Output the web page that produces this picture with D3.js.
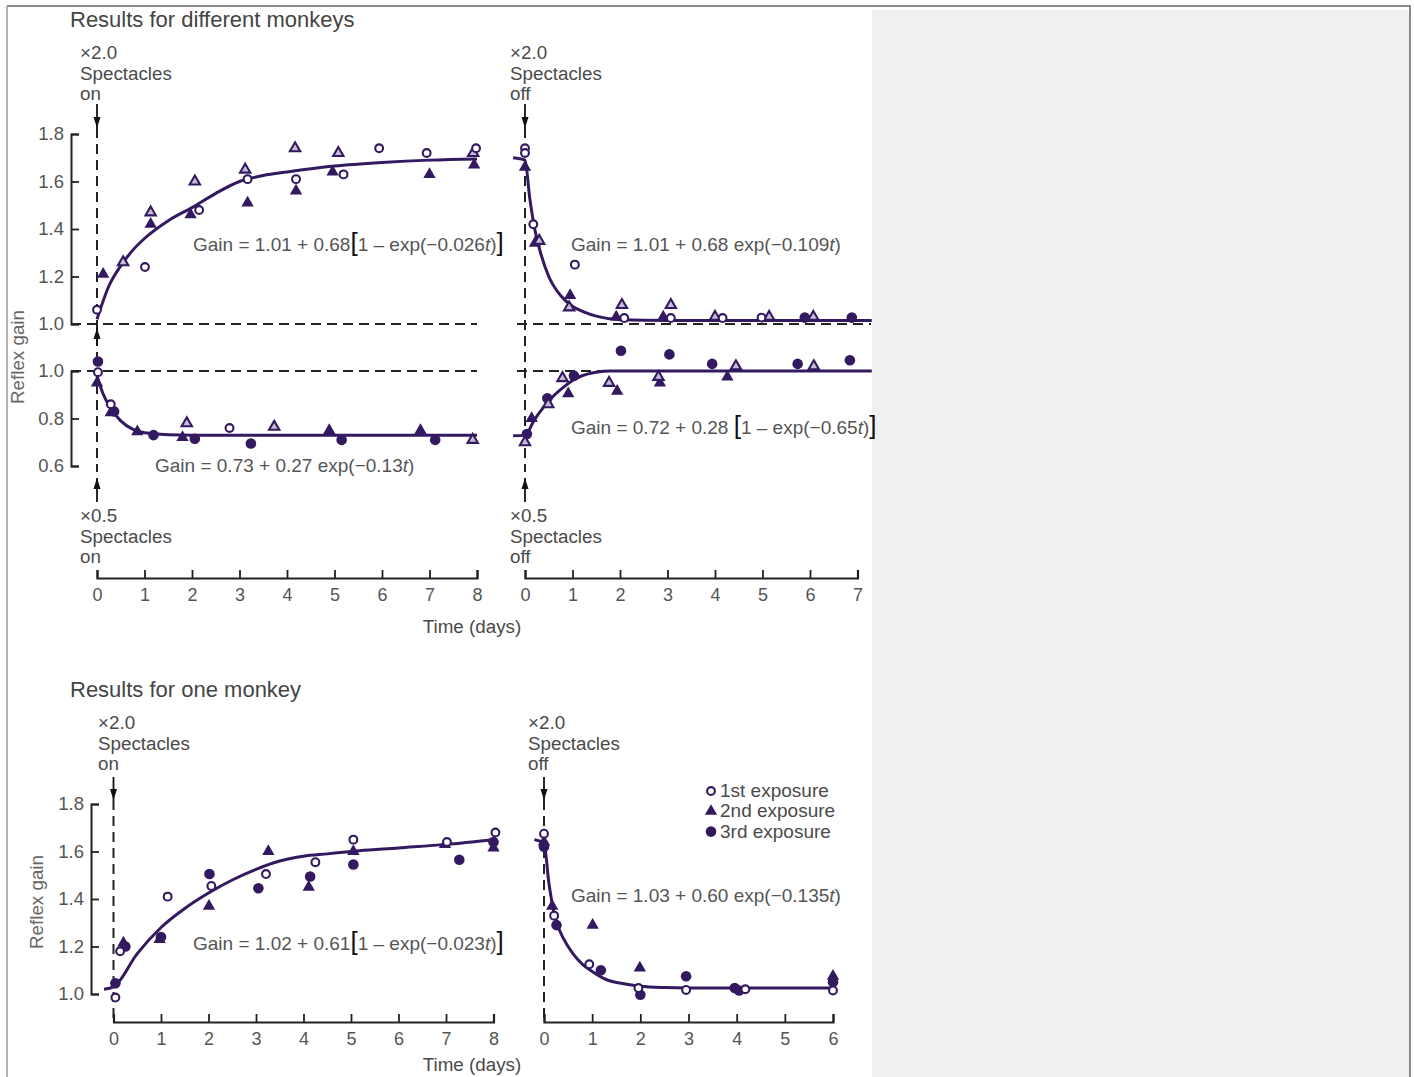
<!DOCTYPE html>
<html><head><meta charset="utf-8">
<script src="https://cdn.jsdelivr.net/npm/d3@7"></script>
<style>
body{margin:0;background:#fff;}
text{font-family:"Liberation Sans",Arial,sans-serif;}
.lbl{font-size:18.8px;fill:#4a4a4a;}
.eq{font-size:19px;fill:#555;}
.br{font-size:26px;fill:#111;}
</style></head>
<body><svg id="c" width="1414" height="1077"></svg>
<script>
// ---------- DATA ----------
// Top-left upper: x2.0 spectacles on (different monkeys)
const tlUpOpenCircle = [[0,1.06],[1.01,1.24],[2.15,1.48],[3.17,1.61],[4.19,1.61],[5.19,1.63],[5.94,1.74],[6.94,1.72],[7.98,1.74]];
const tlUpOpenTri    = [[0.55,1.26],[1.13,1.47],[2.06,1.60],[3.12,1.65],[4.17,1.74],[5.08,1.72],[7.92,1.72]];
const tlUpFilledTri  = [[0.13,1.21],[1.13,1.42],[1.97,1.46],[3.17,1.51],[4.19,1.56],[4.96,1.64],[7.0,1.63],[7.94,1.67]];
const tlUpFit = [[0,1.02],[0.25,1.16],[0.5,1.245],[0.75,1.31],[1,1.36],[1.5,1.435],[2,1.49],[2.5,1.55],[3,1.60],[3.5,1.625],[4,1.64],[5,1.665],[6,1.68],[7,1.69],[8,1.695]];
// Top-left lower: x0.5 spectacles on
const tlLoOpenCircle   = [[0.02,0.995],[0.29,0.86],[2.79,0.76]];
const tlLoOpenTri      = [[1.89,0.78],[3.73,0.765],[7.91,0.71]];
const tlLoFilledTri    = [[0,0.95],[0.29,0.825],[0.85,0.745],[1.8,0.72],[4.89,0.75],[6.81,0.75]];
const tlLoFilledCircle = [[0.02,1.04],[0.36,0.83],[1.19,0.73],[2.06,0.715],[3.24,0.695],[5.15,0.71],[7.12,0.71]];
const tlLoFit = [[0,0.98],[0.125,0.905],[0.25,0.855],[0.5,0.79],[0.75,0.755],[1,0.74],[1.5,0.732],[2,0.73],[4,0.73],[6,0.73],[8,0.73]];
// Top-right upper: x2.0 spectacles off
const trUpOpenCircle   = [[0,1.74],[0,1.72],[0.175,1.42],[1.05,1.25],[2.09,1.025],[3.07,1.025],[4.16,1.025],[4.98,1.027]];
const trUpOpenTri      = [[0.3,1.35],[0.93,1.07],[2.04,1.08],[3.07,1.08],[4.0,1.03],[5.14,1.03],[6.07,1.03]];
const trUpFilledTri    = [[0,1.66],[0.21,1.34],[0.95,1.12],[1.92,1.03],[2.91,1.03]];
const trUpFilledCircle = [[5.89,1.027],[6.88,1.027]];
const trUpFit = [[-0.25,1.70],[0,1.69],[0.1,1.53],[0.2,1.405],[0.3,1.32],[0.5,1.2],[0.75,1.12],[1,1.075],[1.25,1.05],[1.5,1.033],[2,1.018],[3,1.015],[5,1.015],[7.3,1.015]];
// Top-right lower: x0.5 spectacles off
const trLoOpenTri      = [[0,0.70],[0.49,0.86],[0.79,0.97],[1.77,0.95],[2.81,0.975],[4.44,1.02],[6.08,1.02]];
const trLoFilledTri    = [[0.14,0.80],[0.91,0.905],[1.94,0.915],[2.84,0.95],[4.26,0.975]];
const trLoFilledCircle = [[0.04,0.735],[0.47,0.885],[1.03,0.98],[2.02,1.085],[3.04,1.07],[3.94,1.03],[5.74,1.03],[6.84,1.045]];
const trLoFit = [[-0.25,0.727],[0,0.73],[0.2,0.795],[0.4,0.85],[0.6,0.895],[0.8,0.93],[1.0,0.96],[1.2,0.98],[1.5,0.995],[1.8,1.0],[3,1.0],[5,1.0],[7.3,1.0]];
// Bottom-left: one monkey, x2.0 on
const blOpenCircle   = [[0.04,0.985],[0.14,1.18],[1.14,1.41],[2.06,1.455],[3.21,1.505],[4.25,1.555],[5.05,1.65],[7.02,1.64],[8.04,1.68]];
const blFilledTri    = [[0.21,1.215],[0.97,1.23],[2.01,1.37],[3.26,1.60],[4.11,1.45],[5.05,1.60],[6.98,1.63],[8.0,1.615]];
const blFilledCircle = [[0.04,1.045],[0.25,1.20],[1.0,1.24],[2.02,1.505],[3.05,1.445],[4.14,1.495],[5.05,1.545],[7.28,1.565],[8.0,1.64]];
const blFit = [[-0.2,1.02],[0,1.03],[0.5,1.17],[1,1.28],[1.5,1.36],[2,1.425],[2.5,1.48],[3,1.525],[3.5,1.56],[4,1.58],[4.5,1.59],[5,1.60],[6,1.615],[7,1.63],[8,1.65]];
// Bottom-right: one monkey, x2.0 off
const brOpenCircle   = [[0,1.675],[0.21,1.33],[0.94,1.125],[1.96,1.025],[2.95,1.017],[4.18,1.02],[6.0,1.015]];
const brFilledTri    = [[0,1.64],[0.17,1.37],[1.01,1.29],[1.99,1.11],[6.0,1.075]];
const brFilledCircle = [[0,1.62],[0.26,1.29],[1.18,1.10],[2.0,0.997],[2.95,1.075],[3.96,1.025],[4.05,1.015],[6.0,1.05]];
const brFit = [[-0.2,1.65],[0,1.635],[0.1,1.47],[0.2,1.35],[0.3,1.28],[0.4,1.235],[0.6,1.17],[0.8,1.125],[1.0,1.095],[1.3,1.06],[1.6,1.045],[2,1.033],[2.5,1.027],[3,1.025],[6,1.025]];
// Tick labels
const gainTicksHigh = [1.0,1.2,1.4,1.6,1.8];
const gainTicksLow  = [0.6,0.8,1.0];
const dayTicksTL = [0,1,2,3,4,5,6,7,8];
const dayTicksTR = [0,1,2,3,4,5,6,7];
const dayTicksBL = [0,1,2,3,4,5,6,7,8];
const dayTicksBR = [0,1,2,3,4,5,6];
const legendLabels = ["1st exposure","2nd exposure","3rd exposure"];

// ---------- DRAW ----------
const PURPLE = "#33195f";
const svg = d3.select("#c");

// page frame
svg.append("rect").attr("x",0).attr("y",0).attr("width",1414).attr("height",1077).attr("fill","#fff");
svg.append("rect").attr("x",872).attr("y",10).attr("width",538).attr("height",1067).attr("fill","#f0f0f0");
svg.append("line").attr("x1",7).attr("x2",1411).attr("y1",6).attr("y2",6).attr("stroke","#8a8a8a").attr("stroke-width",2);
svg.append("line").attr("x1",7).attr("x2",7).attr("y1",6).attr("y2",1077).attr("stroke","#9a9a9a").attr("stroke-width",1.5);
svg.append("line").attr("x1",1410).attr("x2",1410).attr("y1",6).attr("y2",1077).attr("stroke","#8a8a8a").attr("stroke-width",2);

// scales
const xTL = d3.scaleLinear().domain([0,8]).range([97,477]);
const xTR = d3.scaleLinear().domain([0,7]).range([525,857.5]);
const yUp = d3.scaleLinear().domain([1.0,1.8]).range([324,134]);
const yLo = d3.scaleLinear().domain([0.6,1.0]).range([466,371]);
const xBL = d3.scaleLinear().domain([0,8]).range([113.5,493.5]);
const xBR = d3.scaleLinear().domain([0,6]).range([544,833]);
const yB  = d3.scaleLinear().domain([1.0,1.8]).range([994,804]);

function dashedH(x1,x2,y){ svg.append("line").attr("x1",x1).attr("x2",x2).attr("y1",y).attr("y2",y)
  .attr("stroke","#222").attr("stroke-width",2).attr("stroke-dasharray","10,6"); }
function dashedV(x,y1,y2){ svg.append("line").attr("x1",x).attr("x2",x).attr("y1",y1).attr("y2",y2)
  .attr("stroke","#222").attr("stroke-width",2).attr("stroke-dasharray","10,6"); }
function arrow(x,yFrom,yTip){
  svg.append("line").attr("x1",x).attr("x2",x).attr("y1",yFrom).attr("y2",yTip).attr("stroke","#111").attr("stroke-width",1.8);
  const s = yTip>yFrom ? -1 : 1;
  svg.append("path").attr("d",`M${x},${yTip} L${x-3.5},${yTip+s*11} L${x+3.5},${yTip+s*11} Z`).attr("fill","#111");
}
function xAxis(scale,ticks,y){
  const g = svg.append("g").attr("transform",`translate(0,${y})`)
    .call(d3.axisBottom(scale).tickValues(ticks).tickSize(-8).tickSizeOuter(-8).tickPadding(10).tickFormat(d3.format("d")));
  g.select(".domain").attr("stroke","#222").attr("stroke-width",2.2);
  g.selectAll(".tick line").attr("stroke","#222").attr("stroke-width",1.8);
  g.selectAll(".tick text").attr("fill","#555").style("font-size","18px").style("font-family","'Liberation Sans',Arial,sans-serif");
  return g;
}
function yAxis(scale,ticks,x){
  const g = svg.append("g").attr("transform",`translate(${x},0)`)
    .call(d3.axisLeft(scale).tickValues(ticks).tickSize(-8).tickSizeOuter(-8).tickPadding(7).tickFormat(d3.format(".1f")));
  g.select(".domain").attr("stroke","#222").attr("stroke-width",2);
  g.selectAll(".tick line").attr("stroke","#222").attr("stroke-width",1.8);
  g.selectAll(".tick text").attr("fill","#555").style("font-size","18.5px").style("font-family","'Liberation Sans',Arial,sans-serif");
  return g;
}
function fit(xs,ys,data){
  svg.append("path").datum(data)
    .attr("d",d3.line().x(d=>xs(d[0])).y(d=>ys(d[1])).curve(d3.curveMonotoneX))
    .attr("fill","none").attr("stroke",PURPLE).attr("stroke-width",3);
}
function marks(xs,ys,data,type){
  const g = svg.append("g");
  data.forEach(d=>{
    const cx = xs(d[0]), cy = ys(d[1]);
    if(type==="oc") g.append("circle").attr("cx",cx).attr("cy",cy).attr("r",3.9).attr("fill","#fff").attr("stroke",PURPLE).attr("stroke-width",2.1);
    if(type==="fc") g.append("circle").attr("cx",cx).attr("cy",cy).attr("r",5.3).attr("fill",PURPLE);
    if(type==="ft") g.append("path").attr("transform",`translate(${cx},${cy})`).attr("d",d3.symbol(d3.symbolTriangle,66)()).attr("fill",PURPLE);
    if(type==="ot") g.append("path").attr("transform",`translate(${cx},${cy})`).attr("d",d3.symbol(d3.symbolTriangle,46)()).attr("fill","#c6bcd8").attr("stroke",PURPLE).attr("stroke-width",2.1);
  });
}
function label(x,y,lines){
  lines.forEach((t,i)=> svg.append("text").attr("class","lbl").attr("x",x).attr("y",y+i*20.7).text(t));
}
function equation(x,y,segs){
  const t = svg.append("text").attr("class","eq").attr("x",x).attr("y",y);
  segs.forEach(s=>{ const ts=t.append("tspan").text(s[0]);
    if(s[1]==="i") ts.attr("font-style","italic");
    if(s[1]==="b") ts.attr("class","br"); });
}

// reference dashed lines
dashedH(71,477,yUp(1.0));
dashedH(71,477,yLo(1.0));
dashedH(517,871,yUp(1.0));
dashedH(517,871,yLo(1.0));
dashedV(xTL(0),128,472);
dashedV(xTR(0),128,472);
dashedV(xBL(0),800,1020);
dashedV(xBR(0),800,1020);

// arrows
arrow(xTL(0),104,128); arrow(xTL(0),346,328); arrow(xTL(0),502,478);
arrow(xTR(0),104,128); arrow(xTR(0),502,478);
arrow(xBL(0),777,800); arrow(xBR(0),777,800);

// axes
yAxis(yUp,gainTicksHigh,71);
yAxis(yLo,gainTicksLow,71);
yAxis(yB,gainTicksHigh,91);
xAxis(xTL,dayTicksTL,578);
xAxis(xTR,dayTicksTR,578);
xAxis(xBL,dayTicksBL,1022);
xAxis(xBR,dayTicksBR,1022);

// fits
fit(xTL,yUp,tlUpFit); fit(xTL,yLo,tlLoFit);
fit(xTR,yUp,trUpFit); fit(xTR,yLo,trLoFit);
fit(xBL,yB,blFit);    fit(xBR,yB,brFit);

// data points
marks(xTL,yUp,tlUpFilledTri,"ft"); marks(xTL,yUp,tlUpOpenTri,"ot"); marks(xTL,yUp,tlUpOpenCircle,"oc");
marks(xTL,yLo,tlLoFilledTri,"ft"); marks(xTL,yLo,tlLoFilledCircle,"fc"); marks(xTL,yLo,tlLoOpenTri,"ot"); marks(xTL,yLo,tlLoOpenCircle,"oc");
marks(xTR,yUp,trUpFilledTri,"ft"); marks(xTR,yUp,trUpFilledCircle,"fc"); marks(xTR,yUp,trUpOpenTri,"ot"); marks(xTR,yUp,trUpOpenCircle,"oc");
marks(xTR,yLo,trLoFilledTri,"ft"); marks(xTR,yLo,trLoFilledCircle,"fc"); marks(xTR,yLo,trLoOpenTri,"ot");
marks(xBL,yB,blFilledTri,"ft"); marks(xBL,yB,blFilledCircle,"fc"); marks(xBL,yB,blOpenCircle,"oc");
marks(xBR,yB,brFilledTri,"ft"); marks(xBR,yB,brFilledCircle,"fc"); marks(xBR,yB,brOpenCircle,"oc");

// titles and labels
svg.append("text").attr("x",70).attr("y",27).attr("fill","#444").style("font-size","22px").text("Results for different monkeys");
svg.append("text").attr("x",70).attr("y",697).attr("fill","#444").style("font-size","22px").text("Results for one monkey");
label(80,59,["×2.0","Spectacles","on"]);
label(510,59,["×2.0","Spectacles","off"]);
label(80,522,["×0.5","Spectacles","on"]);
label(510,522,["×0.5","Spectacles","off"]);
label(98,729,["×2.0","Spectacles","on"]);
label(528,729,["×2.0","Spectacles","off"]);
svg.append("text").attr("class","lbl").attr("text-anchor","middle").attr("x",472).attr("y",633).text("Time (days)");
svg.append("text").attr("class","lbl").attr("text-anchor","middle").attr("x",472).attr("y",1071).text("Time (days)");
svg.append("text").attr("class","lbl").attr("text-anchor","middle").style("fill","#666")
  .attr("transform","translate(24,357) rotate(-90)").text("Reflex gain");
svg.append("text").attr("class","lbl").attr("text-anchor","middle").style("fill","#666")
  .attr("transform","translate(43,902) rotate(-90)").text("Reflex gain");

// equations
equation(193,251,[["Gain = 1.01 + 0.68"],["[","b"],["1 – exp(−0.026"],["t","i"],[")"],["]","b"]]);
equation(571,251,[["Gain = 1.01 + 0.68 exp(−0.109"],["t","i"],[")"]]);
equation(155,472,[["Gain = 0.73 + 0.27 exp(−0.13"],["t","i"],[")"]]);
equation(571,434,[["Gain = 0.72 + 0.28 "],["[","b"],["1 – exp(−0.65"],["t","i"],[")"],["]","b"]]);
equation(193,950,[["Gain = 1.02 + 0.61"],["[","b"],["1 – exp(−0.023"],["t","i"],[")"],["]","b"]]);
equation(571,902,[["Gain = 1.03 + 0.60 exp(−0.135"],["t","i"],[")"]]);

// legend
const legTypes = ["oc","ft","fc"];
legendLabels.forEach((t,i)=>{
  const y = 790 + i*20.3;
  if(legTypes[i]==="oc") svg.append("circle").attr("cx",711).attr("cy",y+1).attr("r",3.9).attr("fill","#fff").attr("stroke",PURPLE).attr("stroke-width",2.1);
  if(legTypes[i]==="ft") svg.append("path").attr("transform",`translate(711,${y+1})`).attr("d",d3.symbol(d3.symbolTriangle,66)()).attr("fill",PURPLE);
  if(legTypes[i]==="fc") svg.append("circle").attr("cx",711).attr("cy",y+1).attr("r",5.3).attr("fill",PURPLE);
  svg.append("text").attr("class","lbl").style("font-size","19px").attr("x",720).attr("y",y+7).text(t);
});
</script></body></html>
